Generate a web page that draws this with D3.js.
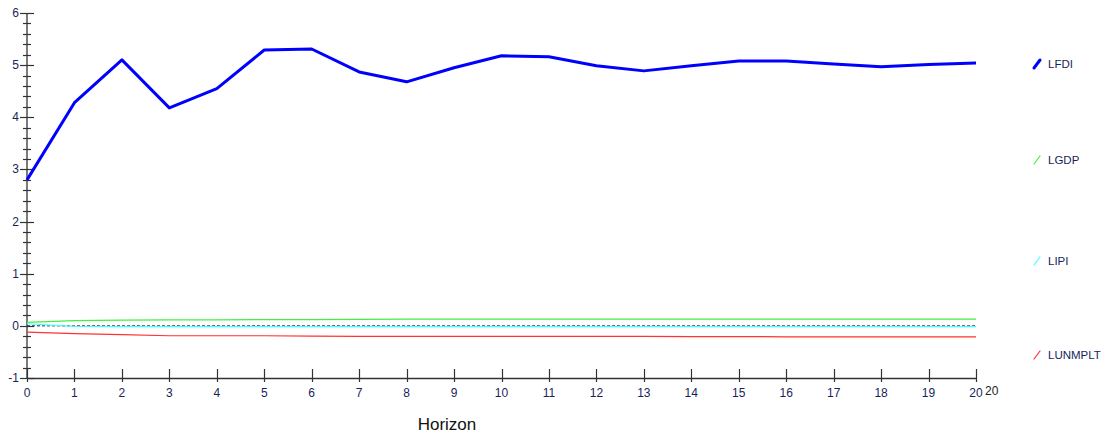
<!DOCTYPE html>
<html><head><meta charset="utf-8">
<script src="https://cdn.jsdelivr.net/npm/d3@7"></script>
<style>body{margin:0;background:#fff}svg{display:block;font-family:Arial,"Liberation Sans",sans-serif}</style>
</head><body><svg id="c" width="1107" height="438"></svg>
<script>
const horizon = d3.range(0, 21);
const seriesNames = ["LFDI", "LGDP", "LIPI", "LUNMPLT"];
const seriesColors = ["#0000ff", "#44ee44", "#44ffff", "#ff3333"];
const LFDI = [2.80,4.28,5.10,4.18,4.55,5.29,5.31,4.87,4.68,4.95,5.18,5.16,4.99,4.89,4.99,5.08,5.08,5.02,4.97,5.01,5.04];
const LGDP = [0.065,0.10,0.11,0.115,0.115,0.12,0.12,0.125,0.13,0.13,0.13,0.13,0.13,0.13,0.13,0.13,0.13,0.13,0.13,0.13,0.13];
const LIPI = [0.04,-0.01,-0.015,-0.015,-0.015,-0.015,-0.015,-0.015,-0.015,-0.015,-0.015,-0.015,-0.015,-0.015,-0.015,-0.015,-0.015,-0.015,-0.015,-0.015,-0.015];
const LUNMPLT = [-0.12,-0.15,-0.17,-0.19,-0.19,-0.19,-0.195,-0.2,-0.2,-0.2,-0.2,-0.2,-0.2,-0.2,-0.205,-0.205,-0.21,-0.21,-0.21,-0.21,-0.21];
const yTicks = [-1,0,1,2,3,4,5,6];

const svg = d3.select("#c");
const x = d3.scaleLinear().domain([0,20]).range([27,976]);
const y = d3.scaleLinear().domain([-1,6]).range([378,13]);
const axisCol = "#333";
const labCol = "#1a1f5a";

// y axis
svg.append("line").attr("x1",27).attr("x2",27).attr("y1",y(6)).attr("y2",y(-1)).attr("stroke",axisCol).attr("stroke-width",1.3);
d3.range(-1,6.001,0.2).forEach(v=>{
  const major = Math.abs(v-Math.round(v))<1e-6;
  const yy = Math.round(y(v))+0.5;
  svg.append("line").attr("x1",27-(major?7:4)).attr("x2",27+(major?7:4)).attr("y1",yy).attr("y2",yy).attr("stroke",axisCol).attr("stroke-width",1.2);
});
yTicks.forEach(v=>{
  svg.append("text").attr("x",19).attr("y",y(v)+4).attr("text-anchor","end").attr("font-size",12).attr("fill",labCol).text(v);
});

// x axis
svg.append("line").attr("x1",27).attr("x2",976).attr("y1",378.5).attr("y2",378.5).attr("stroke",axisCol).attr("stroke-width",1.3);
horizon.forEach(h=>{
  const xx = Math.round(x(h))+0.5;
  svg.append("line").attr("x1",xx).attr("x2",xx).attr("y1",369).attr("y2",382).attr("stroke",axisCol).attr("stroke-width",1.2);
  svg.append("text").attr("x",x(h)).attr("y",397).attr("text-anchor","middle").attr("font-size",12).attr("fill",labCol).text(h);
});
svg.append("text").attr("x",985).attr("y",395).attr("font-size",12).attr("fill","#222").text("20");
svg.append("text").attr("x",447).attr("y",430).attr("text-anchor","middle").attr("font-size",17).attr("fill","#111").text("Horizon");

// zero line
svg.append("line").attr("x1",27).attr("x2",976).attr("y1",y(0)).attr("y2",y(0)).attr("stroke","#1a2a4a").attr("stroke-width",1).attr("stroke-dasharray","3,2");

const line = d3.line().x((d,i)=>x(horizon[i])).y(d=>y(d));
const data = [LFDI, LGDP, LIPI, LUNMPLT];
[3,2,1,0].forEach(k=>{
  svg.append("path").attr("d",line(data[k])).attr("fill","none").attr("stroke",seriesColors[k]).attr("stroke-width",k===0?3:1.2).attr("stroke-linejoin","round");
});

// legend
const legY = [64,160,261,355];
seriesNames.forEach((n,k)=>{
  svg.append("line").attr("x1",1034).attr("x2",1040).attr("y1",legY[k]+4).attr("y2",legY[k]-4).attr("stroke",seriesColors[k]).attr("stroke-width",k===0?3:1.2).attr("stroke-linecap","round");
  svg.append("text").attr("x",1048).attr("y",legY[k]+4).attr("font-size",11.5).attr("fill",labCol).text(n);
});
</script></body></html>
